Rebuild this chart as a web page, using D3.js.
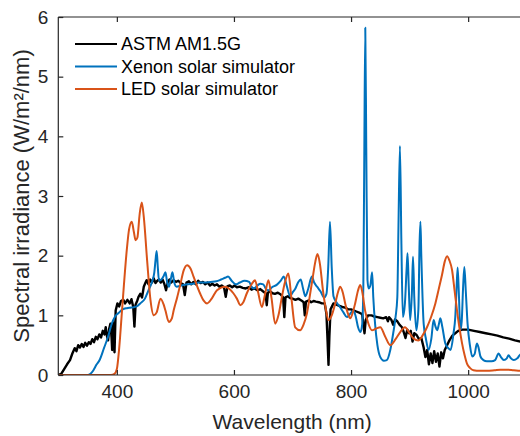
<!DOCTYPE html>
<html>
<head>
<meta charset="utf-8">
<script src="https://cdn.jsdelivr.net/npm/d3@7"></script>
<style>
  html, body { margin: 0; padding: 0; background: #fff; }
  svg { display: block; }
</style>
</head>
<body>
<div id="chart-container"></div>
<script>
// Spectra: [wavelength nm, W/m²/nm]
const astm = [
  [300, 0], [305, 0.02], [310, 0.1], [315, 0.18], [320, 0.25], [324, 0.36], [328, 0.45], [331, 0.4],
  [334, 0.5], [337, 0.46], [340, 0.52], [343, 0.47], [346, 0.54], [349, 0.49], [352, 0.55], [355, 0.52],
  [358, 0.6], [361, 0.55], [364, 0.64], [367, 0.6], [370, 0.68], [373, 0.63], [376, 0.74], [379, 0.68],
  [381, 0.8], [383, 0.66], [385, 0.58], [387, 0.78], [389, 0.86], [391, 0.62], [392, 0.42], [394, 0.88],
  [396, 0.38], [398, 1.08], [401, 1.2], [404, 1.15], [407, 1.24], [411, 1.26], [414, 1.2], [418, 1.26],
  [422, 1.2], [425, 1.27], [428, 1.14], [430, 0.81], [432, 1.18], [435, 1.25], [437, 1.31], [440, 1.36],
  [443, 1.3], [446, 1.48], [449, 1.55], [451, 1.59], [454, 1.52], [457, 1.6], [460, 1.55], [463, 1.62],
  [466, 1.54], [469, 1.58], [472, 1.6], [475, 1.55], [478, 1.6], [481, 1.53], [484, 1.42], [487, 1.56],
  [490, 1.6], [493, 1.55], [497, 1.59], [501, 1.56], [505, 1.58], [509, 1.54], [513, 1.52], [516, 1.34],
  [519, 1.55], [523, 1.57], [527, 1.52], [531, 1.56], [535, 1.52], [539, 1.58], [543, 1.54], [547, 1.56],
  [551, 1.52], [555, 1.55], [559, 1.5], [563, 1.53], [567, 1.5], [571, 1.52], [575, 1.48], [579, 1.5],
  [583, 1.47], [586, 1.31], [589, 1.49], [593, 1.5], [597, 1.47], [601, 1.5], [605, 1.47], [610, 1.48],
  [615, 1.46], [620, 1.45], [625, 1.47], [630, 1.43], [635, 1.45], [640, 1.42], [645, 1.44], [650, 1.4],
  [654, 1.37], [656, 1.17], [658, 1.38], [662, 1.4], [666, 1.37], [670, 1.36], [675, 1.38], [680, 1.35],
  [684, 1.3], [686, 0.97], [688, 1.3], [692, 1.32], [696, 1.29], [700, 1.28], [705, 1.26], [710, 1.28],
  [715, 1.25], [719, 1.22], [721, 1.0], [723, 1.23], [728, 1.25], [732, 1.22], [736, 1.24], [740, 1.23],
  [745, 1.22], [750, 1.2], [755, 1.2], [758, 1.02], [760, 0.55], [761.5, 0.17], [763, 0.65], [765, 1.1],
  [770, 1.2], [775, 1.18], [780, 1.16], [785, 1.14], [790, 1.13], [795, 1.1], [800, 1.1], [805, 1.08],
  [810, 1.06], [815, 1.04], [819, 1.02], [821, 0.85], [823, 0.7], [825, 0.92], [829, 1.0], [835, 1.0],
  [840, 0.98], [845, 0.97], [850, 0.96], [855, 0.95], [860, 0.97], [863, 0.9], [865, 0.97], [869, 0.92],
  [872, 0.84], [875, 0.93], [879, 0.9], [883, 0.84], [887, 0.8], [890, 0.72], [893, 0.62], [896, 0.76],
  [899, 0.7], [902, 0.74], [905, 0.56], [908, 0.7], [912, 0.67], [916, 0.6], [920, 0.62], [924, 0.46],
  [927, 0.3], [930, 0.42], [933, 0.18], [936, 0.36], [939, 0.2], [942, 0.4], [945, 0.22], [948, 0.36],
  [951, 0.14], [954, 0.38], [957, 0.28], [960, 0.42], [964, 0.5], [968, 0.58], [973, 0.66], [978, 0.7],
  [983, 0.74], [990, 0.76], [1000, 0.76], [1010, 0.74], [1020, 0.72], [1030, 0.7], [1040, 0.68],
  [1050, 0.66], [1060, 0.63], [1070, 0.61], [1080, 0.58], [1090, 0.56], [1100, 0.54]
];

const xenon = [
  [300, 0], [350, 0], [355, 0.02], [360, 0.08], [365, 0.17], [371, 0.26], [378, 0.45], [385, 0.64],
  [391, 0.85], [397, 0.98], [403, 1.04], [410, 1.1], [417, 1.12], [425, 1.13], [434, 1.15], [440, 1.2],
  [448, 1.28], [454, 1.42], [460, 1.56], [464, 1.72], [466, 1.92], [468, 2.08], [470, 1.8], [472, 1.58],
  [476, 1.6], [480, 1.66], [483, 1.72], [486, 1.55], [489, 1.48], [492, 1.6], [495, 1.72], [498, 1.55],
  [502, 1.48], [510, 1.5], [520, 1.52], [530, 1.53], [540, 1.55], [550, 1.55], [560, 1.56], [570, 1.57],
  [578, 1.6], [585, 1.63], [590, 1.65], [596, 1.58], [603, 1.52], [610, 1.55], [618, 1.58], [626, 1.56],
  [630, 1.48], [634, 1.45], [640, 1.5], [645, 1.53], [650, 1.52], [655, 1.44], [659, 1.42], [665, 1.47],
  [673, 1.51], [680, 1.58], [685, 1.65], [690, 1.5], [696, 1.32], [700, 1.38], [705, 1.45], [710, 1.56],
  [714, 1.6], [718, 1.45], [722, 1.32], [727, 1.45], [733, 1.65], [737, 1.55], [742, 1.48], [748, 1.4],
  [754, 1.3], [758, 1.36], [761, 1.8], [764, 2.57], [767, 1.8], [770, 1.32], [775, 1.22], [781, 1.14],
  [787, 1.05], [793, 0.97], [798, 1.02], [804, 1.08], [808, 0.98], [812, 0.8], [816, 0.72], [819, 0.85],
  [821, 1.5], [822.5, 3.5], [824.3, 5.82], [826, 3.8], [828, 1.6], [830, 1.45], [833, 1.5], [836, 1.72],
  [838, 1.3], [841, 0.86], [845, 0.5], [850, 0.3], [856, 0.24], [861, 0.25], [867, 0.42], [872, 0.7],
  [876, 0.97], [879, 1.3], [881, 2.5], [883.5, 3.84], [886, 2.2], [888.5, 0.97], [892, 1.2], [895, 1.8],
  [896.5, 2.04], [898.5, 1.5], [901, 0.92], [904, 1.4], [905.8, 1.98], [908, 1.3], [911.5, 0.75],
  [915, 1.1], [917, 2.2], [918.5, 2.57], [920, 2.0], [924, 0.86], [928, 0.6], [932.5, 0.42], [937, 0.6],
  [941, 0.92], [944, 0.82], [947, 0.75], [950, 0.85], [952.5, 0.95], [956, 0.8], [961, 0.53], [966, 0.45],
  [970, 0.42], [975, 0.7], [978, 0.97], [980, 1.4], [982, 1.8], [984, 1.4], [986.7, 0.75], [989, 0.9],
  [991.5, 1.5], [993.5, 1.81], [996, 1.4], [999, 0.86], [1003, 0.5], [1007, 0.31], [1011, 0.35],
  [1015, 0.53], [1018, 0.45], [1021, 0.31], [1026, 0.25], [1032, 0.23], [1040, 0.23], [1046, 0.25],
  [1052, 0.36], [1056, 0.3], [1061, 0.25], [1066, 0.28], [1069, 0.33], [1073, 0.28], [1078, 0.25],
  [1084, 0.28], [1090, 0.35], [1095, 0.3], [1100, 0.28]
];

const led = [
  [300, 0], [390, 0], [396, 0.02], [400, 0.1], [404, 0.45], [408, 0.97], [412, 1.5], [417, 2.1],
  [421, 2.45], [425.5, 2.57], [429, 2.4], [432, 2.26], [435, 2.3], [439, 2.7], [442.6, 2.89], [446, 2.65],
  [451.7, 1.92], [457.4, 1.26], [463, 1.0], [468, 1.05], [474.6, 1.28], [480, 1.18], [483, 1.08],
  [488.8, 0.89], [494, 0.95], [497, 1.08], [503, 1.3], [508.7, 1.53], [514, 1.75], [520, 1.84], [526, 1.78],
  [531, 1.65], [542, 1.37], [548, 1.25], [554, 1.2], [562, 1.28], [571, 1.42], [585, 1.48], [599, 1.37],
  [605, 1.28], [611, 1.17], [616, 1.22], [622, 1.37], [630, 1.52], [636, 1.59], [641, 1.4], [647.7, 1.14],
  [653, 1.35], [659, 1.59], [664, 1.3], [670.4, 0.86], [676, 1.0], [681.9, 1.31], [687, 1.55], [693, 1.7],
  [698, 1.3], [704.6, 0.8], [713, 0.75], [719, 0.85], [724.6, 1.03], [730, 1.35], [734.8, 1.65], [739, 1.9],
  [742.7, 2.03], [747, 1.85], [752, 1.42], [757, 1.1], [761.5, 0.92], [767, 1.0], [773, 1.2], [778, 1.4],
  [781.5, 1.48], [786, 1.38], [790, 1.2], [794, 1.05], [798.6, 0.95], [803, 1.05], [807, 1.2], [812, 1.42],
  [815.7, 1.51], [819, 1.4], [824, 1.08], [830, 0.85], [835.7, 0.75], [843, 0.78], [850, 0.8], [858, 0.65],
  [867, 0.5], [876, 0.6], [884, 0.72], [892, 0.8], [900, 0.7], [907, 0.61], [915, 0.58], [922, 0.66],
  [929.7, 0.8], [937, 0.98], [944, 1.2], [950, 1.45], [955.4, 1.68], [960, 1.9], [964, 1.99], [968, 1.92],
  [972.5, 1.76], [977, 1.4], [981, 1.08], [985, 0.8], [989.6, 0.53], [994, 0.33], [998, 0.19], [1003, 0.12],
  [1009, 0.08], [1020, 0.07], [1032, 0.07], [1045, 0.08], [1055, 0.09], [1065, 0.09], [1078, 0.08],
  [1090, 0.07], [1100, 0.07]
];

const seriesNames = ["ASTM AM1.5G", "Xenon solar simulator", "LED solar simulator"];
const seriesColors = ["#000000", "#0072BD", "#D95319"];
const xTicks = [400, 600, 800, 1000];
const yTicks = [0, 1, 2, 3, 4, 5, 6];

// Layout
const width = 520, height = 436;
const m = { left: 58.3, right: 526.7, top: 17, bottom: 375 };
const font = "'Liberation Sans', Arial, Helvetica, sans-serif";
const axisColor = "#262626";

const svg = d3.select("#chart-container")
    .append("svg")
    .attr("width", width)
    .attr("height", height)
    .style("font-family", font);

const x = d3.scaleLinear().domain([300, 1100]).range([m.left, m.right]);
const y = d3.scaleLinear().domain([0, 6]).range([m.bottom, m.top]);

svg.append("defs").append("clipPath").attr("id", "plot-clip")
    .append("rect")
    .attr("x", m.left).attr("y", m.top)
    .attr("width", m.right - m.left).attr("height", m.bottom - m.top);

// Curves
const lineSharp = d3.line().x(d => x(d[0])).y(d => y(d[1]));
const lineSmooth = d3.line().x(d => x(d[0])).y(d => y(d[1])).curve(d3.curveMonotoneX);

const plot = svg.append("g").attr("clip-path", "url(#plot-clip)");
[[astm, lineSharp, 2.4], [xenon, lineSmooth, 2], [led, lineSmooth, 2]].forEach(([data, gen, w], i) => {
    plot.append("path")
        .datum(data)
        .attr("fill", "none")
        .attr("stroke", seriesColors[i])
        .attr("stroke-width", w)
        .attr("stroke-linejoin", "round")
        .attr("d", gen);
});

// Axes (ticks inside, box on)
const tickLen = 5;
const bottomAxis = svg.append("g")
    .attr("transform", `translate(0,${m.bottom})`)
    .call(d3.axisBottom(x).tickValues(xTicks).tickSize(-tickLen).tickPadding(10).tickFormat(d3.format("d")));
const topAxis = svg.append("g")
    .attr("transform", `translate(0,${m.top})`)
    .call(d3.axisTop(x).tickValues(xTicks).tickSize(-tickLen).tickFormat(""));
const leftAxis = svg.append("g")
    .attr("transform", `translate(${m.left},0)`)
    .call(d3.axisLeft(y).tickValues(yTicks).tickSize(-tickLen).tickPadding(10).tickFormat(d3.format("d")));

[bottomAxis, topAxis, leftAxis].forEach(g => {
    g.select(".domain").attr("stroke", axisColor).attr("stroke-width", 1.2);
    g.selectAll(".tick line").attr("stroke", axisColor).attr("stroke-width", 1.2);
    g.selectAll("text").attr("fill", axisColor).style("font-family", font).style("font-size", "19px");
});
// straight spines without the end caps
bottomAxis.select(".domain").attr("d", `M${m.left},0H${m.right}`);
topAxis.select(".domain").attr("d", `M${m.left},0H${m.right}`);
leftAxis.select(".domain").attr("d", `M0,${m.top}V${m.bottom}`);

// Axis labels
svg.append("text")
    .attr("x", (m.left + 520) / 2 + 3)
    .attr("y", 429)
    .attr("text-anchor", "middle")
    .attr("fill", axisColor)
    .style("font-size", "21px")
    .text("Wavelength (nm)");

svg.append("text")
    .attr("transform", `translate(29,${(m.top + m.bottom) / 2}) rotate(-90)`)
    .attr("text-anchor", "middle")
    .attr("fill", axisColor)
    .style("font-size", "22px")
    .text("Spectral irradiance (W/m²/nm)");

// Legend
const legend = svg.append("g").attr("transform", "translate(75,44)");
seriesNames.forEach((name, i) => {
    const row = legend.append("g").attr("transform", `translate(0,${i * 22.5})`);
    row.append("line")
        .attr("x1", 0).attr("x2", 42)
        .attr("stroke", seriesColors[i])
        .attr("stroke-width", 2);
    row.append("text")
        .attr("x", 46)
        .attr("dy", "0.35em")
        .attr("fill", "#000")
        .style("font-size", "18px")
        .text(name);
});
</script>
</body>
</html>
